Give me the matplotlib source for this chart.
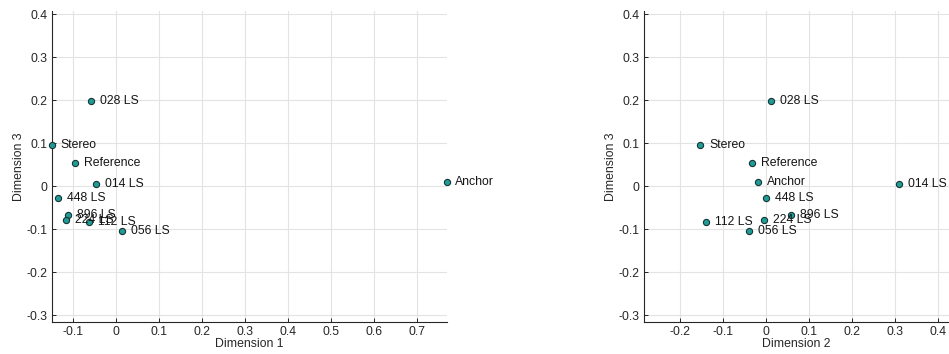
import matplotlib
matplotlib.use("Agg")
import matplotlib.pyplot as plt
import numpy as np

plt.rcParams['font.family'] = ['Liberation Sans', 'DejaVu Sans']
plt.rcParams['axes.unicode_minus'] = False

# MDS coordinates of each stimulus
labels = ["028 LS", "Stereo", "Reference", "014 LS", "448 LS",
          "896 LS", "224 LS", "112 LS", "056 LS", "Anchor"]
dim1 = [-0.059, -0.150, -0.095, -0.046, -0.135, -0.112, -0.117, -0.063, 0.013, 0.768]
dim2 = [0.011, -0.153, -0.033, 0.309, 0.001, 0.058, -0.004, -0.140, -0.040, -0.018]
dim3 = [0.198, 0.095, 0.053, 0.005, -0.028, -0.067, -0.078, -0.084, -0.104, 0.009]

yticks = np.round(np.arange(-0.3, 0.41, 0.1), 1)

fill = '#1f9c98'
edge = '#163434'
ink = '#262626'
fs = 8.8

fig = plt.figure(figsize=(9.49, 3.54), dpi=100)
ax1 = fig.add_axes([0.0545, 0.0912, 0.4162, 0.8777])
ax2 = fig.add_axes([0.6786, 0.0912, 0.3214, 0.8777])


def fmt(ticks):
    return ['0' if abs(t) < 1e-9 else f'{t:g}' for t in ticks]


def panel(ax, xs, ys, xlabel, xlim, xticks):
    ax.scatter(xs, ys, s=20, c=fill, edgecolors=edge, linewidths=0.8, zorder=3,
               clip_on=False)
    for lab, x, y in zip(labels, xs, ys):
        ax.annotate(lab, (x, y), xytext=(6.3, 0), textcoords='offset points',
                    va='center', ha='left', fontsize=fs, color='#151515',
                    zorder=4, annotation_clip=False)
    ax.set_xlim(*xlim)
    ax.set_ylim(-0.3155, 0.407)
    ax.set_xticks(xticks)
    ax.set_yticks(yticks)
    ax.set_xticklabels(fmt(xticks))
    ax.set_yticklabels(fmt(yticks))
    ax.grid(True, color='#e3e3e3', linewidth=0.8)
    ax.set_axisbelow(True)
    for side in ('top', 'right'):
        ax.spines[side].set_visible(False)
    for side in ('left', 'bottom'):
        ax.spines[side].set_color(ink)
        ax.spines[side].set_linewidth(0.8)
    ax.tick_params(direction='in', length=3, width=0.7, labelsize=fs,
                   colors=ink, pad=3)
    ax.set_xlabel(xlabel, fontsize=fs, color=ink, labelpad=0)
    ax.set_ylabel('Dimension 3', fontsize=fs, color=ink, labelpad=1)


panel(ax1, dim1, dim3, 'Dimension 1', (-0.150, 0.768),
      np.round(np.arange(-0.1, 0.71, 0.1), 1))
panel(ax2, dim2, dim3, 'Dimension 2', (-0.284, 0.4256),
      np.round(np.arange(-0.2, 0.41, 0.1), 1))

fig.savefig('out.png', dpi=100)
